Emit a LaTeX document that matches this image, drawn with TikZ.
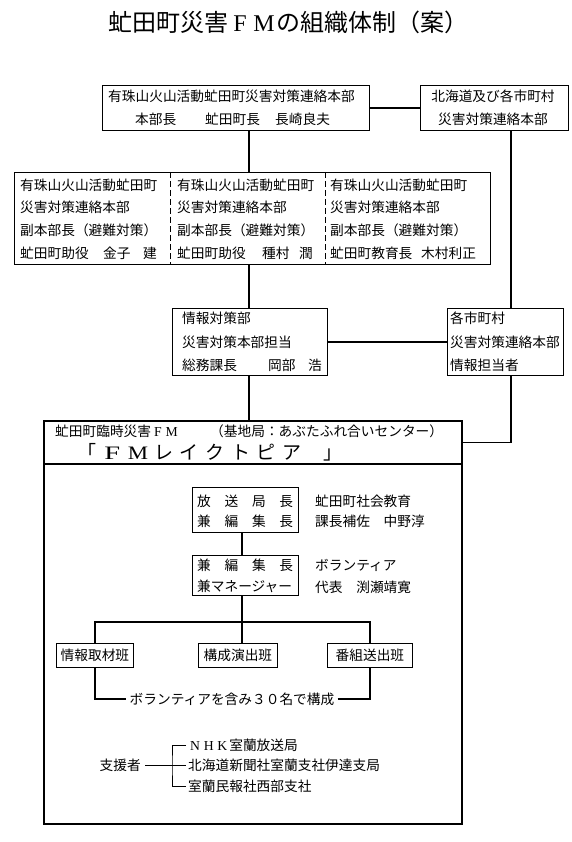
\documentclass[tikz,border=0pt]{standalone}
\usepackage{fontspec}
\setmainfont{Noto Sans CJK JP}
\newfontfamily\serifl{Liberation Serif}
\newcommand{\fwc}[1]{\makebox[1em]{\serifl #1}}
\newcommand{\fs}{\fontsize{13.7pt}{16pt}\selectfont}
\newcommand{\bigc}[1]{\makebox[25.7pt][c]{#1}}
\begin{document}
\begin{tikzpicture}[x=1pt,y=-1pt,
  box/.style={draw, line width=0.8pt, inner sep=0, anchor=north west},
  conn/.style={line width=1.6pt},
  thinl/.style={line width=0.8pt},
  txt/.style={anchor=west, inner sep=0, text height=12.6pt, text depth=1.6pt, font=\fs},
]
\useasboundingbox (0,0) rectangle (572,842);

% title
\node[font=\fontsize{24pt}{28pt}\selectfont, inner sep=0] (title) at (288,22) {虻田町災害\fwc{F}\fwc{M}の組織体制（案）};

% top boxes
\node[box, minimum width=267pt, minimum height=45pt] (hq) at (102,85) {};
\node[box, minimum width=148pt, minimum height=45pt] (hk) at (420,85) {};
\node[txt] (hq1) at (108,96) {有珠山火山活動虻田町災害対策連絡本部};
\node[txt] (hq2) at (135,119) {本部長};
\node[txt] (hq3) at (205,119) {虻田町長};
\node[txt] (hq4) at (275,119) {長崎良夫};
\node[txt, anchor=center] (hk1) at (493,96) {北海道及び各市町村};
\node[txt, anchor=center] (hk2) at (493,119) {災害対策連絡本部};

% three deputies box
\node[box, minimum width=476pt, minimum height=92pt] (fuku) at (14,172) {};
\draw[line width=0.6pt, dash pattern=on 6pt off 3pt] (170,172) -- (170,264);
\draw[line width=0.6pt, dash pattern=on 6pt off 3pt] (325,172) -- (325,264);
\foreach \cx/\nm in {20/a,177/b,330/c}{
  \node[txt] (f1\nm) at (\cx,185) {有珠山火山活動虻田町};
  \node[txt] (f2\nm) at (\cx,207.5) {災害対策連絡本部};
  \node[txt] (f3\nm) at (\cx,230) {副本部長（避難対策）};
}
\node[txt] (f4a) at (20,252.5) {虻田町助役};
\node[txt] (f5a) at (103,252.5) {金子};
\node[txt] (f6a) at (143,252.5) {建};
\node[txt] (f4b) at (177,252.5) {虻田町助役};
\node[txt] (f5b) at (262,252.5) {種村};
\node[txt] (f6b) at (299,252.5) {潤};
\node[txt] (f4c) at (330,252.5) {虻田町教育長};
\node[txt] (f5c) at (421,252.5) {木村利正};

% info boxes
\node[box, minimum width=155pt, minimum height=67pt] (jo) at (172,308) {};
\node[txt] (jo1) at (182,318) {情報対策部};
\node[txt] (jo2) at (182,342) {災害対策本部担当};
\node[txt] (jo3) at (182,365) {総務課長};
\node[txt] (jo4) at (268,365) {岡部};
\node[txt] (jo5) at (308,365) {浩};
\node[box, minimum width=116pt, minimum height=67pt] (ka) at (447,308) {};
\node[txt] (ka1) at (450,318) {各市町村};
\node[txt] (ka2) at (450,342) {災害対策連絡本部};
\node[txt] (ka3) at (450,365) {情報担当者};

% FM big box
\node[box, line width=1.6pt, minimum width=418pt, minimum height=403pt] (fm) at (43,420) {};
\node[box, line width=1.6pt, minimum width=418pt, minimum height=43pt] (hdr) at (43,420) {};
\node[txt] (hd1) at (55,431) {虻田町臨時災害\fwc{F}\fwc{M}};
\node[txt] (hd2) at (210,431) {（基地局：あぶたふれ合いセンター）};
\node[anchor=west, inner sep=0, font=\fontsize{19pt}{22pt}\selectfont] (hd3) at (73.5,452)
  {\bigc{「}\bigc{\serifl\scalebox{1.5}[1]{F}}\bigc{\serifl\scalebox{1.2}[1]{M}}\bigc{レ}\bigc{イ}\bigc{ク}\bigc{ト}\bigc{ピ}\bigc{ア}\bigc{\hspace{30pt}」}};

\node[box, minimum width=106pt, minimum height=45pt] (hs) at (192,487) {};
\node[txt] (hs1) at (197,501) {\makebox[96pt]{放\hfill 送\hfill 局\hfill 長}};
\node[txt] (hs2) at (197,521) {\makebox[96pt]{兼\hfill 編\hfill 集\hfill 長}};
\node[txt] (hr1) at (315,501) {虻田町社会教育};
\node[txt] (hr2) at (315,521) {課長補佐　中野淳};

\node[box, minimum width=106pt, minimum height=40pt] (hn) at (192,555) {};
\node[txt] (hn1) at (197,565) {\makebox[96pt]{兼\hfill 編\hfill 集\hfill 長}};
\node[txt] (hn2) at (197,586) {兼マネージャー};
\node[txt] (vr1) at (315,565) {ボランティア};
\node[txt] (vr2) at (315,587) {代表　渕瀬靖寛};

\node[box, minimum width=77pt, minimum height=24pt, font=\fs] (t1) at (56,643) {情報取材班};
\node[box, minimum width=79pt, minimum height=24pt, font=\fs] (t2) at (198,643) {構成演出班};
\node[box, minimum width=85pt, minimum height=24pt, font=\fs] (t3) at (327,643) {番組送出班};
\node[font=\fs, inner sep=3pt] (vol) at (232,699) {ボランティアを含み３０名で構成};

% supporters
\node[txt, anchor=east, inner xsep=4pt] (sh) at (145,765) {支援者};
\node[txt, inner xsep=2pt] (s1) at (186,745) {\fwc{N}\fwc{H}\fwc{K}室蘭放送局};
\node[txt, inner xsep=2pt] (s2) at (186,765) {北海道新聞社室蘭支社伊達支局};
\node[txt, inner xsep=2pt] (s3) at (186,786) {室蘭民報社西部支社};
\coordinate (bk) at (172,765);
\draw[thinl] (sh.east) -- (s2.west);
\draw[thinl] (s1.west) -| (bk) |- (s3.west);

% connectors
\coordinate (cx) at (249,0);
\coordinate (rx) at (511,0);
\coordinate (spine) at (242,0);
\coordinate (bus) at (0,622);
\draw[conn] (hq.east) -- (hk.west);
\draw[conn] (hq.south -| cx) -- (fuku.north -| cx);
\draw[conn] (fuku.south -| cx) -- (jo.north -| cx);
\draw[conn] (jo.east) -- (ka.west);
\draw[conn] (hk.south -| rx) -- (ka.north -| rx);
\draw[conn] (jo.south -| cx) -- (hdr.north -| cx);
\draw[conn] (ka.south -| rx) |- (hdr.east);
\draw[conn] (hs.south -| spine) -- (hn.north -| spine);
\draw[conn] (hn.south -| spine) -- (bus -| spine);
\draw[conn] (t1.north) |- (bus -| spine) -| (t3.north);
\draw[conn] (bus -| spine) -- (t2.north -| spine);
\draw[conn] (t1.south) |- (vol.west);
\draw[conn] (vol.east) -| (t3.south);
\end{tikzpicture}
\end{document}
